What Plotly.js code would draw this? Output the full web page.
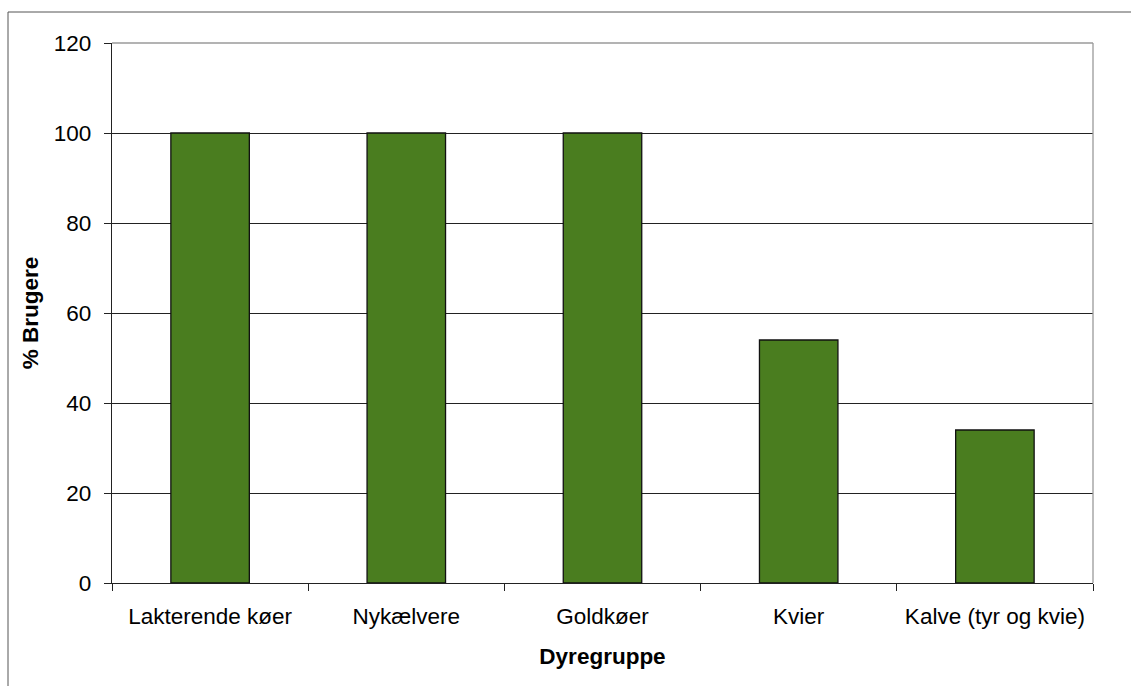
<!DOCTYPE html>
<html>
<head>
<meta charset="utf-8">
<script src="https://cdn.plot.ly/plotly-3.0.1.min.js"></script>
<style>
html,body{margin:0;padding:0;background:#fff;}
#chart{width:1131px;height:686px;}
</style>
</head>
<body>
<div id="chart"></div>
<script>
const categories = ["Lakterende køer", "Nykælvere", "Goldkøer", "Kvier", "Kalve (tyr og kvie)"];
const values = [100, 100, 100, 54, 34];
const yTicks = [0, 20, 40, 60, 80, 100, 120];
const xTitle = "Dyregruppe";
const yTitle = "% Brugere";

const font = "Liberation Sans, Arial, sans-serif";

const trace = {
  type: "bar",
  x: categories,
  y: values,
  width: 0.4,
  marker: {color: "#4a7d1f", line: {color: "#111", width: 1.3}},
  hoverinfo: "x+y"
};

const layout = {
  width: 1131, height: 686,
  margin: {l: 112, r: 38, t: 43, b: 103},
  paper_bgcolor: "#fff", plot_bgcolor: "#fff",
  showlegend: false,
  bargap: 0.6,
  font: {family: font, size: 22.5, color: "#000"},
  xaxis: {
    type: "category",
    tickson: "boundaries",
    ticks: "outside", ticklen: 7, tickcolor: "#222", tickwidth: 1,
    showline: true, linecolor: "#222", linewidth: 1.3,
    showgrid: false,
    tickfont: {family: font, size: 22.5, color: "#000"},
    ticklabelstandoff: 13,
    title: {text: xTitle, font: {family: font, size: 22.5, color: "#000", weight: "bold"}, standoff: 20}
  },
  yaxis: {
    range: [0, 120],
    tickvals: yTicks,
    ticktext: yTicks.map(String),
    ticks: "outside", ticklen: 7, tickcolor: "#222", tickwidth: 1,
    showline: true, linecolor: "#222", linewidth: 1.3,
    showgrid: true, gridcolor: "#222", gridwidth: 1,
    zeroline: false,
    tickfont: {family: font, size: 22.5, color: "#000"},
    ticklabelstandoff: 8,
    title: {text: yTitle, font: {family: font, size: 22.5, color: "#000", weight: "bold"}, standoff: 8}
  },
  shapes: [
    {type: "line", xref: "paper", yref: "paper", x0: 0, x1: 1, y0: 1, y1: 1, line: {color: "#9a9a9a", width: 1.3}, layer: "above"},
    {type: "line", xref: "paper", yref: "paper", x0: 1, x1: 1, y0: 0, y1: 1, line: {color: "#9a9a9a", width: 1.3}, layer: "above"},
    {type: "rect", xref: "paper", yref: "paper", x0: (8 - 112) / 981, x1: (1132 - 112) / 981, y0: (583 - 700) / 540, y1: (583 - 12) / 540, line: {color: "#555", width: 1}, fillcolor: "rgba(0,0,0,0)", layer: "above"}
  ]
};

Plotly.newPlot("chart", [trace], layout, {displayModeBar: false, staticPlot: true});
</script>
</body>
</html>
